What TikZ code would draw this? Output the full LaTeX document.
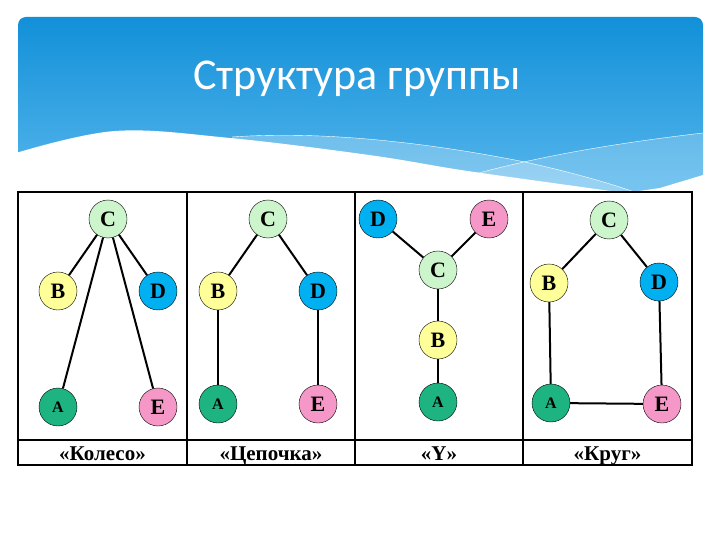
\documentclass[tikz,border=0pt]{standalone}
\usepackage{fontspec}
\setmainfont{Liberation Serif}
\newfontfamily\titlefont{Carlito}
\usepackage{tikz}
\usetikzlibrary{positioning}
\definecolor{hdrTop}{RGB}{18,144,216}
\definecolor{hdrBot}{RGB}{92,185,238}
\definecolor{paleGreen}{RGB}{204,245,204}
\definecolor{paleYellow}{RGB}{255,255,153}
\definecolor{skyBlue}{RGB}{0,176,240}
\definecolor{tealGreen}{RGB}{30,180,130}
\definecolor{pinkE}{RGB}{245,152,200}

\begin{document}
\begin{tikzpicture}[
  x=1pt, y=-1pt,
  vertex/.style={circle, draw, minimum size=38pt, inner sep=0pt, font=\bfseries\fontsize{22}{22}\selectfont},
  va/.style={vertex, fill=tealGreen, font=\bfseries\fontsize{16}{16}\selectfont},
  vb/.style={vertex, fill=paleYellow},
  vc/.style={vertex, fill=paleGreen},
  vd/.style={vertex, fill=skyBlue},
  ve/.style={vertex, fill=pinkE},
  link/.style={line width=2pt},
  grid line/.style={line width=1.3pt},
  caption/.style={font=\bfseries\fontsize{21}{21}\selectfont, anchor=base}
]
  \useasboundingbox (0,0) rectangle (720,540);
  % header
  \shade[top color=hdrTop, bottom color=hdrBot, rounded corners=8pt] (18,17) rectangle (703,205);
  \fill[white, opacity=0.25] (232,137) .. controls (330,130) and (440,145) .. (525,162)
    .. controls (570,172) and (610,183) .. (640,194) -- (703,194) -- (703,205) -- (232,205) -- cycle;
  \fill[white, opacity=0.2] (447,182) .. controls (520,160) and (600,145) .. (703,133) -- (703,205) -- (447,205) -- cycle;
  \draw[white, thin] (232,137) .. controls (330,130) and (440,145) .. (525,162)
    .. controls (570,172) and (610,183) .. (640,194);
  \draw[white, thin] (447,182) .. controls (520,160) and (600,145) .. (703,133);
  \fill[white] plot[smooth, tension=0.6] coordinates {(16,153) (115,131) (230,138) (369,155) (461,170) (553,183) (625,193)}
    -- (660,188) -- (703,175) -- (706,175) -- (706,210) -- (16,210) -- cycle;
  \node[white, font=\titlefont\fontsize{44}{44}\selectfont, anchor=base] (title) at (357,90) {Структура группы};

  % table
  \fill[white] (18,192) rectangle (692,465);
  \draw[grid line] (18,192) rectangle (692,465);
  \draw[grid line] (18,440) -- (692,440);
  \foreach \x in {187,355,523}
    \draw[grid line] (\x,192) -- (\x,465);

  % "Koleso"
  \node[vc] (C1) at (108,219) {C};
  \node[vb] (B1) at (58,291)  {B};
  \node[vd] (D1) at (158,291) {D};
  \node[va] (A1) at (58,407)  {A};
  \node[ve] (E1) at (158,407) {E};
  \draw[link] (C1) -- (B1);
  \draw[link] (C1) -- (D1);
  \draw[link] (C1) -- (A1);
  \draw[link] (C1) -- (E1);

  % "Tsepochka"
  \node[vc] (C2) at (268,219) {C};
  \node[vb] (B2) at (218,291) {B};
  \node[vd] (D2) at (318,291) {D};
  \node[va] (A2) at (218,404) {A};
  \node[ve] (E2) at (318,404) {E};
  \draw[link] (C2) -- (B2);
  \draw[link] (C2) -- (D2);
  \draw[link] (B2) -- (A2);
  \draw[link] (D2) -- (E2);

  % "Y"
  \node[vd] (D3) at (378,219) {D};
  \node[ve] (E3) at (489,219) {E};
  \node[vc] (C3) at (438,270) {C};
  \node[vb] (B3) at (438,340) {B};
  \node[va] (A3) at (438,402) {A};
  \draw[link] (D3) -- (C3);
  \draw[link] (E3) -- (C3);
  \draw[link] (C3) -- (B3);
  \draw[link] (B3) -- (A3);

  % "Krug"
  \node[vc] (C4) at (609,220) {C};
  \node[vb] (B4) at (549,283) {B};
  \node[vd] (D4) at (659,282) {D};
  \node[va] (A4) at (551,403) {A};
  \node[ve] (E4) at (662,404) {E};
  \draw[link] (C4) -- (B4);
  \draw[link] (C4) -- (D4);
  \draw[link] (B4) -- (A4);
  \draw[link] (D4) -- (E4);
  \draw[link] (A4) -- (E4);

  % captions
  \node[caption] (cap1) at (102.5,460) {«Колесо»};
  \node[caption] (cap2) at (271,460)   {«Цепочка»};
  \node[caption] (cap3) at (439,460)   {«Y»};
  \node[caption] (cap4) at (607.5,460) {«Круг»};
\end{tikzpicture}
\end{document}
